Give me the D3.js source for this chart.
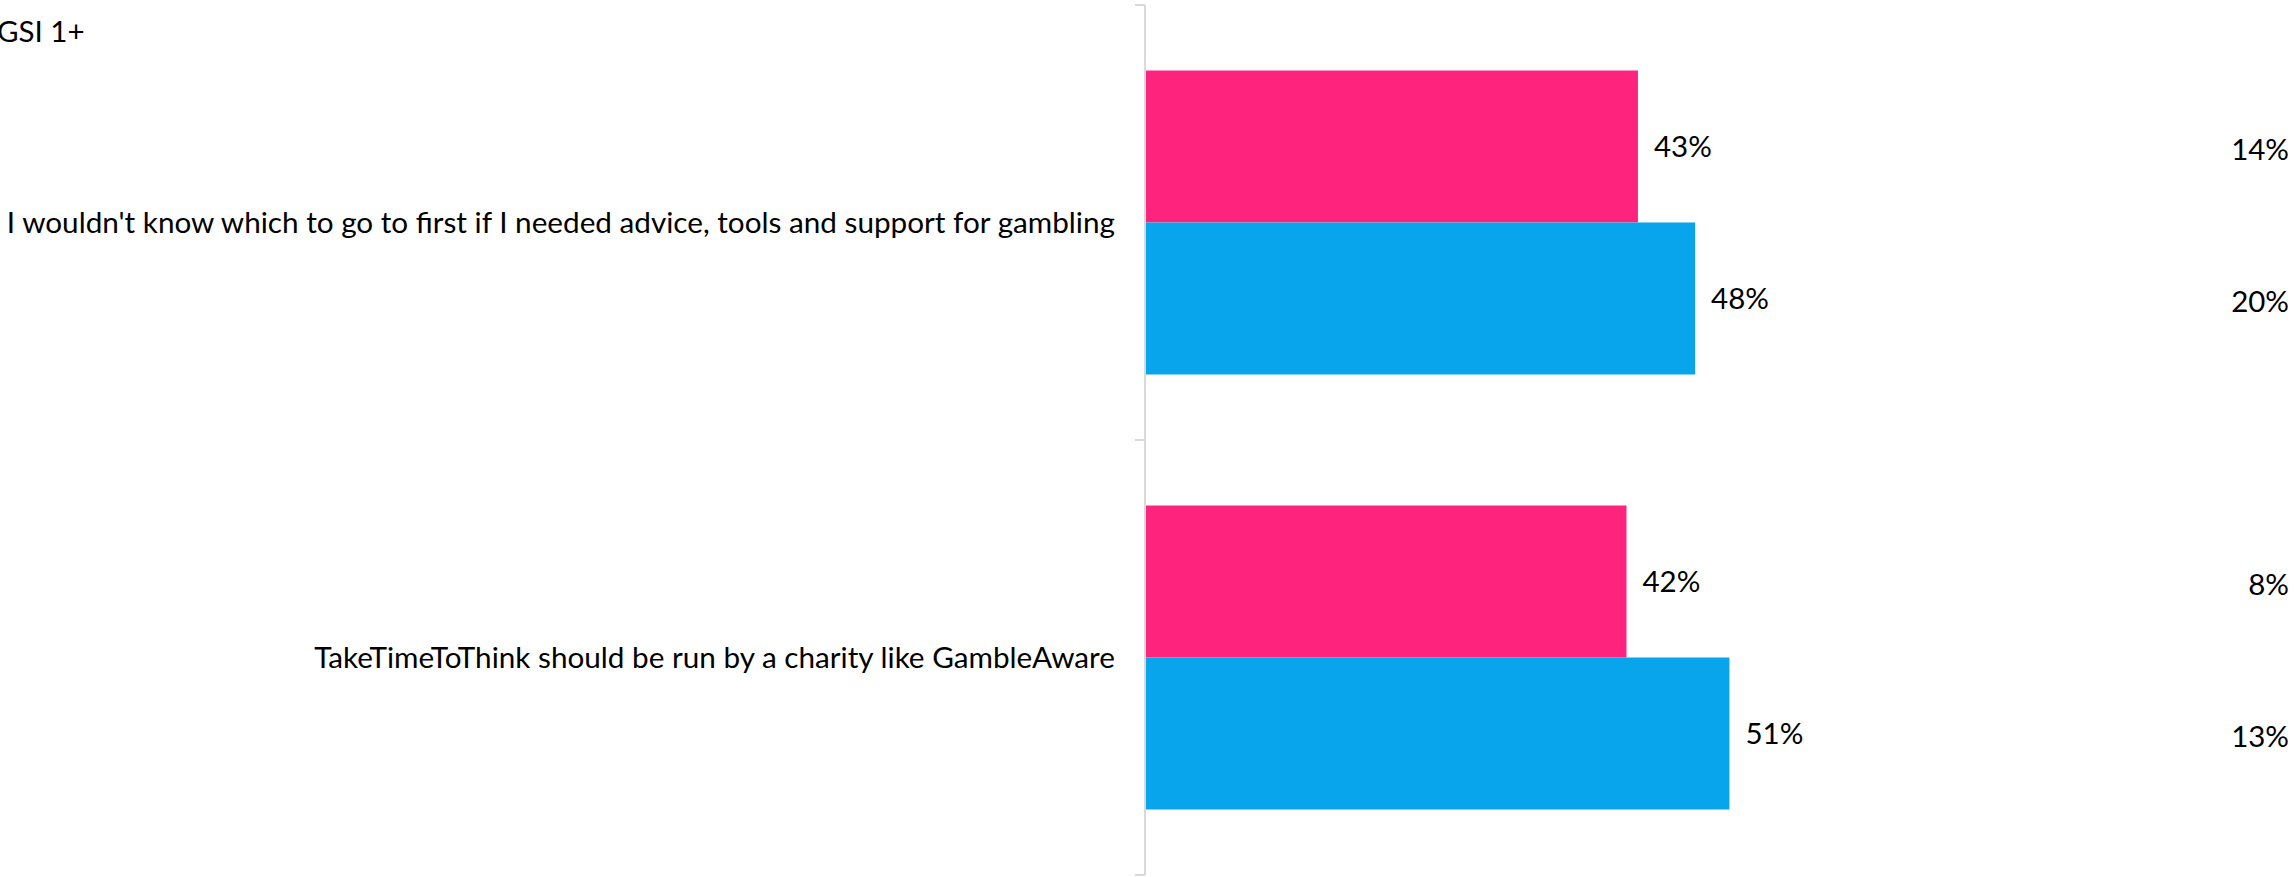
<!DOCTYPE html>
<html>
<head>
<meta charset="utf-8">
<script src="https://cdn.jsdelivr.net/npm/d3@7"></script>
<style>
  body { margin: 0; background: #fff; }
  text { font-family: Lato, "Open Sans", sans-serif; fill: #000; }
</style>
</head>
<body>
<div id="chart"></div>
<script>
var categories = [
    "I wouldn't know which to go to first if I needed advice, tools and support for gambling",
    "TakeTimeToThink should be run by a charity like GambleAware"
];
var seriesNames = ["first", "second"];
var pinkValues = [43, 42];
var blueValues = [48, 51];
var pinkRight = [14, 8];
var blueRight = [20, 13];
var legendLabel = "GSI 1+";

function init() {
    var w = 2295;
    var h = 877;
    var colors = ["#FE237C", "#09A5EC"];
    var fontSize = "29.5px";

    var svg = d3.select("#chart")
        .append("svg")
        .attr("width", w)
        .attr("height", h);

    // one band per category, ticks sit on band edges
    var yScale = d3.scaleBand()
        .domain(categories)
        .range([5, 875])
        .paddingInner(0)
        .paddingOuter(0);

    var inner = d3.scaleBand()
        .domain(seriesNames)
        .range([0, yScale.bandwidth()])
        .paddingInner(0)
        .paddingOuter(0.431);

    var xScale = d3.scaleLinear()
        .domain([0, 100])
        .range([1146, 2290]);

    var rows = categories.map(function(c, i) {
        return {
            cat: c,
            vals: [
                { s: "first", v: pinkValues[i], r: pinkRight[i], c: colors[0] },
                { s: "second", v: blueValues[i], r: blueRight[i], c: colors[1] }
            ]
        };
    });

    var groups = svg.selectAll("g.cat")
        .data(rows)
        .enter()
        .append("g")
        .attr("class", "cat")
        .attr("transform", function(d) {
            return "translate(0," + yScale(d.cat) + ")";
        });

    groups.selectAll("rect")
        .data(function(d) { return d.vals; })
        .enter()
        .append("rect")
        .attr("x", xScale(0))
        .attr("y", function(d) { return inner(d.s); })
        .attr("width", function(d) { return xScale(d.v) - xScale(0); })
        .attr("height", inner.bandwidth())
        .style("fill", function(d) { return d.c; });

    // value labels next to the bars
    groups.selectAll("text.val")
        .data(function(d) { return d.vals; })
        .enter()
        .append("text")
        .attr("class", "val")
        .attr("x", function(d) { return xScale(d.v) + 16; })
        .attr("y", function(d) { return inner(d.s) + inner.bandwidth() / 2; })
        .attr("dy", "0.35em")
        .style("font-size", fontSize)
        .text(function(d) { return d.v + "%"; });

    // right-hand column
    groups.selectAll("text.right")
        .data(function(d) { return d.vals; })
        .enter()
        .append("text")
        .attr("class", "right")
        .attr("x", xScale(100) - 1)
        .attr("y", function(d) { return inner(d.s) + inner.bandwidth() / 2 + 3; })
        .attr("dy", "0.35em")
        .attr("text-anchor", "end")
        .style("font-size", fontSize)
        .text(function(d) { return d.r + "%"; });

    // category labels
    groups.append("text")
        .attr("x", xScale(0) - 31)
        .attr("y", yScale.bandwidth() / 2)
        .attr("dy", "0.35em")
        .attr("text-anchor", "end")
        .style("font-size", "29.7px")
        .text(function(d) { return d.cat; });

    // axis line and ticks between categories
    var axisX = xScale(0) - 1;
    var edges = categories.map(function(c) { return yScale(c); });
    edges.push(yScale(categories[categories.length - 1]) + yScale.bandwidth());

    svg.append("line")
        .attr("x1", axisX).attr("x2", axisX)
        .attr("y1", edges[0]).attr("y2", edges[edges.length - 1])
        .style("stroke", "#D9D9D9")
        .style("stroke-width", 2);

    svg.selectAll("line.tick")
        .data(edges)
        .enter()
        .append("line")
        .attr("class", "tick")
        .attr("x1", axisX - 10).attr("x2", axisX)
        .attr("y1", function(d) { return d; })
        .attr("y2", function(d) { return d; })
        .style("stroke", "#D9D9D9")
        .style("stroke-width", 2);

    // legend label, partly cut at the left edge as in the source
    svg.append("text")
        .attr("x", -3)
        .attr("y", 32)
        .attr("dy", "0.35em")
        .style("font-size", fontSize)
        .text(legendLabel);
}

window.onload = init;
</script>
</body>
</html>
